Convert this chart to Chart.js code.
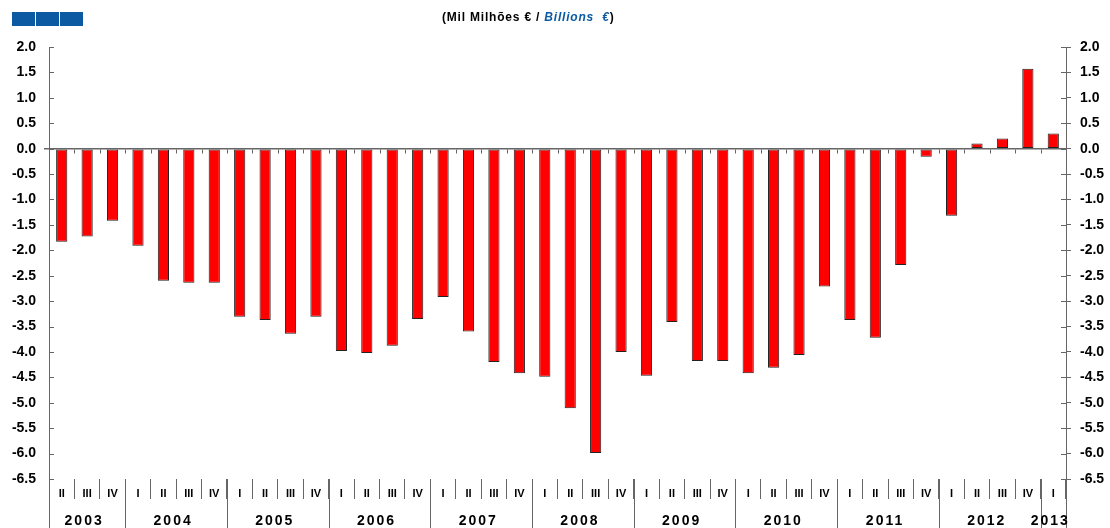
<!DOCTYPE html>
<html>
<head>
<meta charset="utf-8">
<script src="https://cdn.jsdelivr.net/npm/chart.js@4.4.1/dist/chart.umd.min.js"></script>
<style>
  html, body { margin: 0; padding: 0; background: #fff; }
  canvas { display: block; }
</style>
</head>
<body>
<canvas id="chartSaldo" width="1110" height="528"></canvas>
<script>
// Quarters from 2003 II to 2013 I
const quarters = [
    'II', 'III', 'IV',
    'I', 'II', 'III', 'IV',
    'I', 'II', 'III', 'IV',
    'I', 'II', 'III', 'IV',
    'I', 'II', 'III', 'IV',
    'I', 'II', 'III', 'IV',
    'I', 'II', 'III', 'IV',
    'I', 'II', 'III', 'IV',
    'I', 'II', 'III', 'IV',
    'I', 'II', 'III', 'IV',
    'I'
];
const years = ['2003', '2004', '2005', '2006', '2007', '2008', '2009', '2010', '2011', '2012', '2013'];
const quartersPerYear = [3, 4, 4, 4, 4, 4, 4, 4, 4, 4, 1];

// Mil milhoes de euros
const saldo = [
    -1.83, -1.73, -1.42,
    -1.91, -2.60, -2.64, -2.64,
    -3.31, -3.37, -3.64, -3.31,
    -3.98, -4.02, -3.88, -3.35,
    -2.92, -3.60, -4.20, -4.42,
    -4.49, -5.11, -5.99, -4.00,
    -4.47, -3.41, -4.18, -4.18,
    -4.42, -4.31, -4.06, -2.71,
    -3.37, -3.72, -2.29, -0.16,
    -1.32, 0.10, 0.20, 1.57,
    0.30
];

const yMin = -6.5;
const yMax = 2.0;
const yStep = 0.5;

const FONT = '"Liberation Sans", Arial, sans-serif';
const AXIS = '#666';

Chart.defaults.font.family = FONT;
Chart.defaults.color = '#000';

// Extra drawing: header, small ticks, year separators and labels
const decorPlugin = {
    id: 'decor',
    afterDraw(chart) {
        const ctx = chart.ctx;
        const area = chart.chartArea;
        const x = chart.scales.x;
        const y = chart.scales.y;
        const half = (x.getPixelForValue(1) - x.getPixelForValue(0)) / 2;
        const boundary = i => x.getPixelForValue(i) - half;
        const y0 = Math.round(y.getPixelForValue(0)) + 0.5;
        const H = chart.height;

        ctx.save();
        ctx.strokeStyle = AXIS;
        ctx.lineWidth = 1;

        // little marks under the zero line
        ctx.beginPath();
        for (let i = 1; i < quarters.length; i++) {
            const bx = Math.round(boundary(i)) + 0.5;
            ctx.moveTo(bx, y0);
            ctx.lineTo(bx, y0 + 4);
        }
        // inner half of the value ticks
        for (let v = yMin; v <= yMax + 1e-9; v += yStep) {
            const py = Math.round(y.getPixelForValue(v)) + 0.5;
            ctx.moveTo(area.left, py);
            ctx.lineTo(area.left + 5, py);
            ctx.moveTo(area.right - 5, py);
            ctx.lineTo(area.right, py);
        }
        // axes run down to the bottom
        ctx.moveTo(Math.round(area.left) + 0.5, area.bottom);
        ctx.lineTo(Math.round(area.left) + 0.5, H);
        ctx.moveTo(Math.round(area.right) + 0.5, area.bottom);
        ctx.lineTo(Math.round(area.right) + 0.5, H);
        ctx.stroke();

        // year separators and labels
        ctx.font = 'bold 14px ' + FONT;
        ctx.letterSpacing = '2px';
        ctx.fillStyle = '#000';
        ctx.textAlign = 'center';
        ctx.textBaseline = 'middle';
        let start = 0;
        years.forEach((yr, k) => {
            const end = start + quartersPerYear[k];
            const x1 = boundary(start);
            const x2 = end < quarters.length ? boundary(end) : area.right;
            if (end < quarters.length) {
                const sx = Math.round(x2) + 0.5;
                ctx.beginPath();
                ctx.moveTo(sx, area.bottom);
                ctx.lineTo(sx, H);
                ctx.stroke();
            }
            ctx.fillText(yr, (x1 + x2) / 2 - 3, 521);
            start = end;
        });

        // header: blue squares and units
        ctx.fillStyle = '#0b5aa2';
        [12, 36, 60].forEach(sx => ctx.fillRect(sx, 12, 23, 14));

        ctx.textAlign = 'left';
        ctx.letterSpacing = '0.8px';
        ctx.font = 'bold 12px ' + FONT;
        ctx.fillStyle = '#000';
        let tx = 442;
        const part1 = '(Mil Milhões € / ';
        ctx.fillText(part1, tx, 18);
        tx += ctx.measureText(part1).width;
        ctx.font = 'italic bold 12px ' + FONT;
        ctx.fillStyle = '#0b5aa2';
        const part2 = 'Billions  €';
        ctx.fillText(part2, tx, 18);
        tx += ctx.measureText(part2).width;
        ctx.font = 'bold 12px ' + FONT;
        ctx.fillStyle = '#000';
        ctx.fillText(')', tx, 18);
        ctx.restore();
    }
};

const valueTicks = {
    stepSize: yStep,
    font: { size: 14, weight: 'bold' },
    color: '#000',
    callback: v => Number(v).toFixed(1)
};

new Chart(document.getElementById('chartSaldo').getContext('2d'), {
    type: 'bar',
    data: {
        labels: quarters,
        datasets: [{
            data: saldo,
            backgroundColor: '#ff0000',
            borderColor: '#222',
            borderWidth: 1,
            borderSkipped: false,
            barPercentage: 0.44,
            categoryPercentage: 1.0,
            yAxisID: 'y'
        }]
    },
    options: {
        responsive: false,
        animation: false,
        devicePixelRatio: 1,
        layout: { padding: { top: 47, left: 0, right: 0, bottom: 0 } },
        plugins: {
            legend: { display: false },
            tooltip: { enabled: false }
        },
        scales: {
            x: {
                offset: true,
                grid: {
                    offset: true,
                    drawOnChartArea: false,
                    drawTicks: true,
                    tickLength: 20,
                    tickColor: AXIS,
                    color: AXIS
                },
                border: { display: false },
                ticks: {
                    autoSkip: false,
                    maxRotation: 0,
                    padding: -12,
                    font: { size: 11, weight: 'bold' },
                    color: '#000'
                },
                afterFit: scale => { scale.height = 49; }
            },
            y: {
                position: 'left',
                min: yMin,
                max: yMax,
                grid: {
                    color: c => (c.tick && c.tick.value === 0) ? AXIS : 'rgba(0,0,0,0)',
                    lineWidth: c => (c.tick && c.tick.value === 0) ? 1.5 : 0,
                    tickColor: AXIS,
                    tickLength: 5
                },
                border: { display: true, color: AXIS, width: 1 },
                ticks: Object.assign({ padding: 8 }, valueTicks),
                afterFit: scale => { scale.width = 49; }
            },
            y2: {
                position: 'right',
                min: yMin,
                max: yMax,
                grid: {
                    drawOnChartArea: false,
                    tickColor: AXIS,
                    tickLength: 5
                },
                border: { display: true, color: AXIS, width: 1 },
                ticks: Object.assign({ padding: 9 }, valueTicks),
                afterFit: scale => { scale.width = 44; }
            }
        }
    },
    plugins: [decorPlugin]
});
</script>
</body>
</html>
